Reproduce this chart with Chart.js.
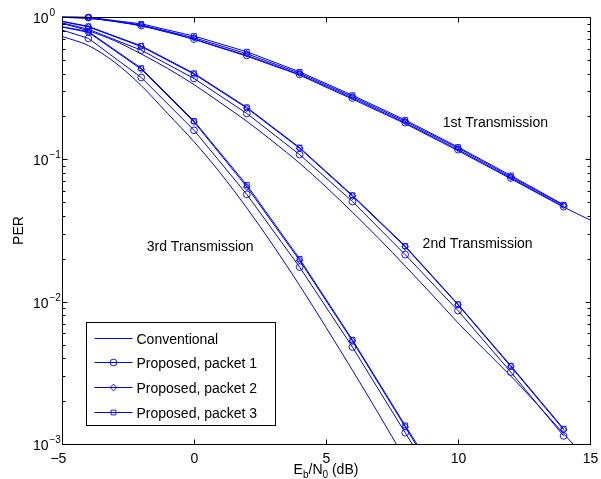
<!DOCTYPE html>
<html>
<head>
<meta charset="utf-8">
<script src="https://cdn.jsdelivr.net/npm/chart.js@4.4.0/dist/chart.umd.min.js"></script>
<style>
  body { margin: 0; background: #fff; }
</style>
</head>
<body>
<canvas id="graphCanvas" width="601" height="479"></canvas>
<script>
// Eb/N0 (dB) grids
var snrConv  = [-5, -4, -3, -2, -1, 0, 1, 2, 3, 4, 5, 6, 7, 8, 9, 10, 11, 12, 13, 14, 15];
var snrConv3 = [-5, -4, -3, -2, -1, 0, 1, 2, 3, 4, 5, 6, 7, 8];
var snrProp  = [-5, -4, -2, 0, 2, 4, 6, 8, 10, 12, 14];
var snrProp3 = [-5, -4, -2, 0, 2, 4, 6, 8, 8.5];

// conventional scheme, one curve per transmission
var conv1 = [0.995, 0.975, 0.935, 0.865, 0.785, 0.695, 0.607, 0.53, 0.455, 0.39, 0.321, 0.265, 0.217, 0.178, 0.143, 0.115, 0.0916, 0.073, 0.058, 0.0462, 0.0375];
var conv2 = [0.90, 0.80, 0.68, 0.55, 0.435, 0.335, 0.25, 0.185, 0.133, 0.094, 0.064, 0.0425, 0.0278, 0.0178, 0.0113, 0.0071, 0.0046, 0.0030, 0.0019, 0.00118, 0.00074];
var conv3 = [0.73, 0.63, 0.48, 0.33, 0.21, 0.133, 0.08, 0.0455, 0.0248, 0.013, 0.0066, 0.0033, 0.00162, 0.00078];

// proposed scheme
var tx1Pkt1 = [0.995, 0.99, 0.87, 0.70, 0.537, 0.395, 0.27, 0.181, 0.117, 0.074, 0.0465];
var tx1Pkt2 = [0.998, 0.993, 0.88, 0.715, 0.552, 0.403, 0.276, 0.185, 0.12, 0.0755, 0.0475];
var tx1Pkt3 = [1.0, 0.995, 0.895, 0.735, 0.57, 0.412, 0.282, 0.189, 0.122, 0.077, 0.048];

var tx2Pkt1 = [0.91, 0.82, 0.585, 0.37, 0.21, 0.108, 0.0506, 0.0214, 0.00865, 0.0032, 0.00114];
var tx2Pkt2 = [0.93, 0.852, 0.62, 0.397, 0.229, 0.1195, 0.0552, 0.0243, 0.0095, 0.0035, 0.00126];
var tx2Pkt3 = [0.935, 0.86, 0.627, 0.402, 0.232, 0.121, 0.056, 0.0246, 0.0096, 0.00355, 0.00128];

var tx3Pkt1 = [0.81, 0.708, 0.376, 0.16, 0.0567, 0.0175, 0.0048, 0.0012, 0.00085];
var tx3Pkt2 = [0.85, 0.78, 0.43, 0.183, 0.064, 0.0195, 0.0053, 0.00132, 0.00093];
var tx3Pkt3 = [0.855, 0.79, 0.437, 0.186, 0.066, 0.020, 0.0054, 0.00135, 0.00096];

var seriesNames = ['Conventional', 'Proposed, packet 1', 'Proposed, packet 2', 'Proposed, packet 3'];

// axes
var xTicks = [-5, 0, 5, 10, 15];
var xTickLabels = ['\u22125', '0', '5', '10', '15'];
var yTicks = [1, 0.1, 0.01, 0.001];
var yTickExp = ['0', '\u22121', '\u22122', '\u22123'];

// text labels inside the plot
var annoLabels = ['1st Transmission', '2nd Transmission', '3rd Transmission'];
var annoX = [9.42, 8.66, -1.79];
var annoY = [0.181, 0.0252, 0.0243];

var BLUE = '#0000ff';
var FONT = '"Liberation Sans", Arial, Helvetica, sans-serif';
var markerStyles = [false, 'circle', 'rectRot', 'rect'];

function markerRadius(c) {
    var v = c.raw;
    return (v && Number.isInteger(v.x) && v.x % 2 === 0) ? 3.4 : 0;
}

function makeSeries(xs, ys, kind, name) {
    var pts = [];
    for (var i = 0; i < xs.length; i++) pts.push({ x: xs[i], y: ys[i] });
    return {
        label: name,
        data: pts,
        borderColor: BLUE,
        borderWidth: 1,
        backgroundColor: 'rgba(0,0,0,0)',
        pointStyle: markerStyles[kind],
        pointRadius: kind === 0 ? 0 : markerRadius,
        pointBorderColor: BLUE,
        pointBackgroundColor: 'rgba(0,0,0,0)',
        pointBorderWidth: 0.9,
        cubicInterpolationMode: kind === 0 ? 'monotone' : 'default',
        tension: 0,
        fill: false,
        clip: { left: 0, right: 0, top: 6, bottom: 0 }
    };
}

var datasets = [
    makeSeries(snrConv, conv1, 0, seriesNames[0]),
    makeSeries(snrConv, conv2, 0, seriesNames[0]),
    makeSeries(snrConv3, conv3, 0, seriesNames[0]),
    makeSeries(snrProp, tx1Pkt1, 1, seriesNames[1]),
    makeSeries(snrProp, tx1Pkt2, 2, seriesNames[2]),
    makeSeries(snrProp, tx1Pkt3, 3, seriesNames[3]),
    makeSeries(snrProp, tx2Pkt1, 1, seriesNames[1]),
    makeSeries(snrProp, tx2Pkt2, 2, seriesNames[2]),
    makeSeries(snrProp, tx2Pkt3, 3, seriesNames[3]),
    makeSeries(snrProp3, tx3Pkt1, 1, seriesNames[1]),
    makeSeries(snrProp3, tx3Pkt2, 2, seriesNames[2]),
    makeSeries(snrProp3, tx3Pkt3, 3, seriesNames[3])
];

function drawMarker(ctx, kind, x, y, r) {
    ctx.beginPath();
    if (kind === 1) {
        ctx.arc(x, y, r, 0, Math.PI * 2);
    } else if (kind === 2) {
        ctx.moveTo(x, y - r); ctx.lineTo(x + r, y); ctx.lineTo(x, y + r); ctx.lineTo(x - r, y); ctx.closePath();
    } else if (kind === 3) {
        var s = r * Math.SQRT1_2;
        ctx.rect(x - s, y - s, 2 * s, 2 * s);
    }
    ctx.stroke();
}

// MATLAB-like box, inward ticks, labels, legend
var matlabAxes = {
    id: 'matlabAxes',
    afterDraw: function (chart) {
        var ctx = chart.ctx, a = chart.chartArea;
        var xs = chart.scales.x, ys = chart.scales.y;
        var L = Math.round(a.left) + 0.5, R = Math.round(a.right) + 0.5;
        var T = Math.round(a.top) + 0.5, B = Math.round(a.bottom) + 0.5;
        ctx.save();
        ctx.strokeStyle = '#000';
        ctx.lineWidth = 1;
        ctx.strokeRect(L, T, R - L, B - T);

        function seg(x1, y1, x2, y2) { ctx.beginPath(); ctx.moveTo(x1, y1); ctx.lineTo(x2, y2); ctx.stroke(); }

        // x ticks
        ctx.fillStyle = '#000';
        ctx.font = '14px ' + FONT;
        ctx.textBaseline = 'alphabetic';
        xTicks.forEach(function (v, i) {
            var px = Math.round(xs.getPixelForValue(v)) + 0.5;
            seg(px, B, px, B - 5);
            seg(px, T, px, T + 5);
            var lab = xTickLabels[i];
            var shift = lab.charAt(0) === '\u2212' ? ctx.measureText('\u2212').width / 2 : 0;
            ctx.textAlign = 'center';
            ctx.fillText(lab, px - shift, B + 18);
        });

        // y ticks (major + minor)
        yTicks.forEach(function (v, i) {
            var py = Math.round(ys.getPixelForValue(v)) + 0.5;
            seg(L, py, L + 5, py);
            seg(R, py, R - 5, py);
            ctx.font = '14px ' + FONT;
            ctx.textAlign = 'right';
            ctx.fillText('10', L - 14, py + 5.5);
            ctx.font = '10px ' + FONT;
            ctx.textAlign = 'left';
            ctx.fillText(yTickExp[i], L - 13, py - 2);
            if (i > 0) {
                for (var k = 2; k <= 9; k++) {
                    var pm = Math.round(ys.getPixelForValue(v * k)) + 0.5;
                    seg(L, pm, L + 3, pm);
                    seg(R, pm, R - 3, pm);
                }
            }
        });

        // x title E_b/N_0 (dB)
        var parts = [['E', 14, 0], ['b', 10, 4], ['/N', 14, 0], ['0', 10, 4], [' (dB)', 14, 0]];
        var total = 0;
        parts.forEach(function (p) { ctx.font = p[1] + 'px ' + FONT; total += ctx.measureText(p[0]).width; });
        var cx = xs.getPixelForValue(5) - total / 2;
        ctx.textAlign = 'left';
        parts.forEach(function (p) {
            ctx.font = p[1] + 'px ' + FONT;
            ctx.fillText(p[0], cx, B + 29 + p[2]);
            cx += ctx.measureText(p[0]).width;
        });

        // y title
        ctx.save();
        ctx.translate(23, (a.top + a.bottom) / 2);
        ctx.rotate(-Math.PI / 2);
        ctx.font = '14px ' + FONT;
        ctx.textAlign = 'center';
        ctx.fillText('PER', 0, 0);
        ctx.restore();

        // annotations
        ctx.font = '14px ' + FONT;
        ctx.textAlign = 'left';
        ctx.textBaseline = 'middle';
        annoLabels.forEach(function (t, i) {
            ctx.fillText(t, xs.getPixelForValue(annoX[i]), ys.getPixelForValue(annoY[i]));
        });

        // legend
        var lx = Math.round(a.left) + 24.5, lw = 189, lh = 103;
        var ly = Math.round(a.bottom) - 18.5 - lh;
        ctx.fillStyle = '#fff';
        ctx.fillRect(lx, ly, lw, lh);
        ctx.strokeStyle = '#000';
        ctx.strokeRect(lx, ly, lw, lh);
        ctx.fillStyle = '#000';
        ctx.textBaseline = 'alphabetic';
        seriesNames.forEach(function (name, i) {
            var yy = Math.round(ly + 15 + i * 24.8) + 0.5;
            ctx.strokeStyle = BLUE;
            ctx.lineWidth = 1;
            seg(lx + 8, yy, lx + 46, yy);
            ctx.lineWidth = 0.9;
            drawMarker(ctx, i, lx + 27, yy, 3.4);
            ctx.fillText(name, lx + 50, yy + 5);
        });
        ctx.restore();
    }
};

var graphTarget = document.getElementById('graphCanvas');
var perChart = new Chart(graphTarget, {
    type: 'line',
    data: { datasets: datasets },
    options: {
        responsive: false,
        animation: false,
        events: [],
        layout: { padding: { left: 0, top: 17, right: 11, bottom: 0 } },
        plugins: { legend: { display: false }, tooltip: { enabled: false } },
        scales: {
            x: {
                type: 'linear', min: -5, max: 15,
                grid: { display: false, drawTicks: false },
                border: { display: false },
                ticks: { display: false },
                afterFit: function (s) { s.height = 35; }
            },
            y: {
                type: 'logarithmic', min: 0.001, max: 1,
                grid: { display: false, drawTicks: false },
                border: { display: false },
                ticks: { display: false },
                afterFit: function (s) { s.width = 62; }
            }
        }
    },
    plugins: [matlabAxes]
});
</script>
</body>
</html>
